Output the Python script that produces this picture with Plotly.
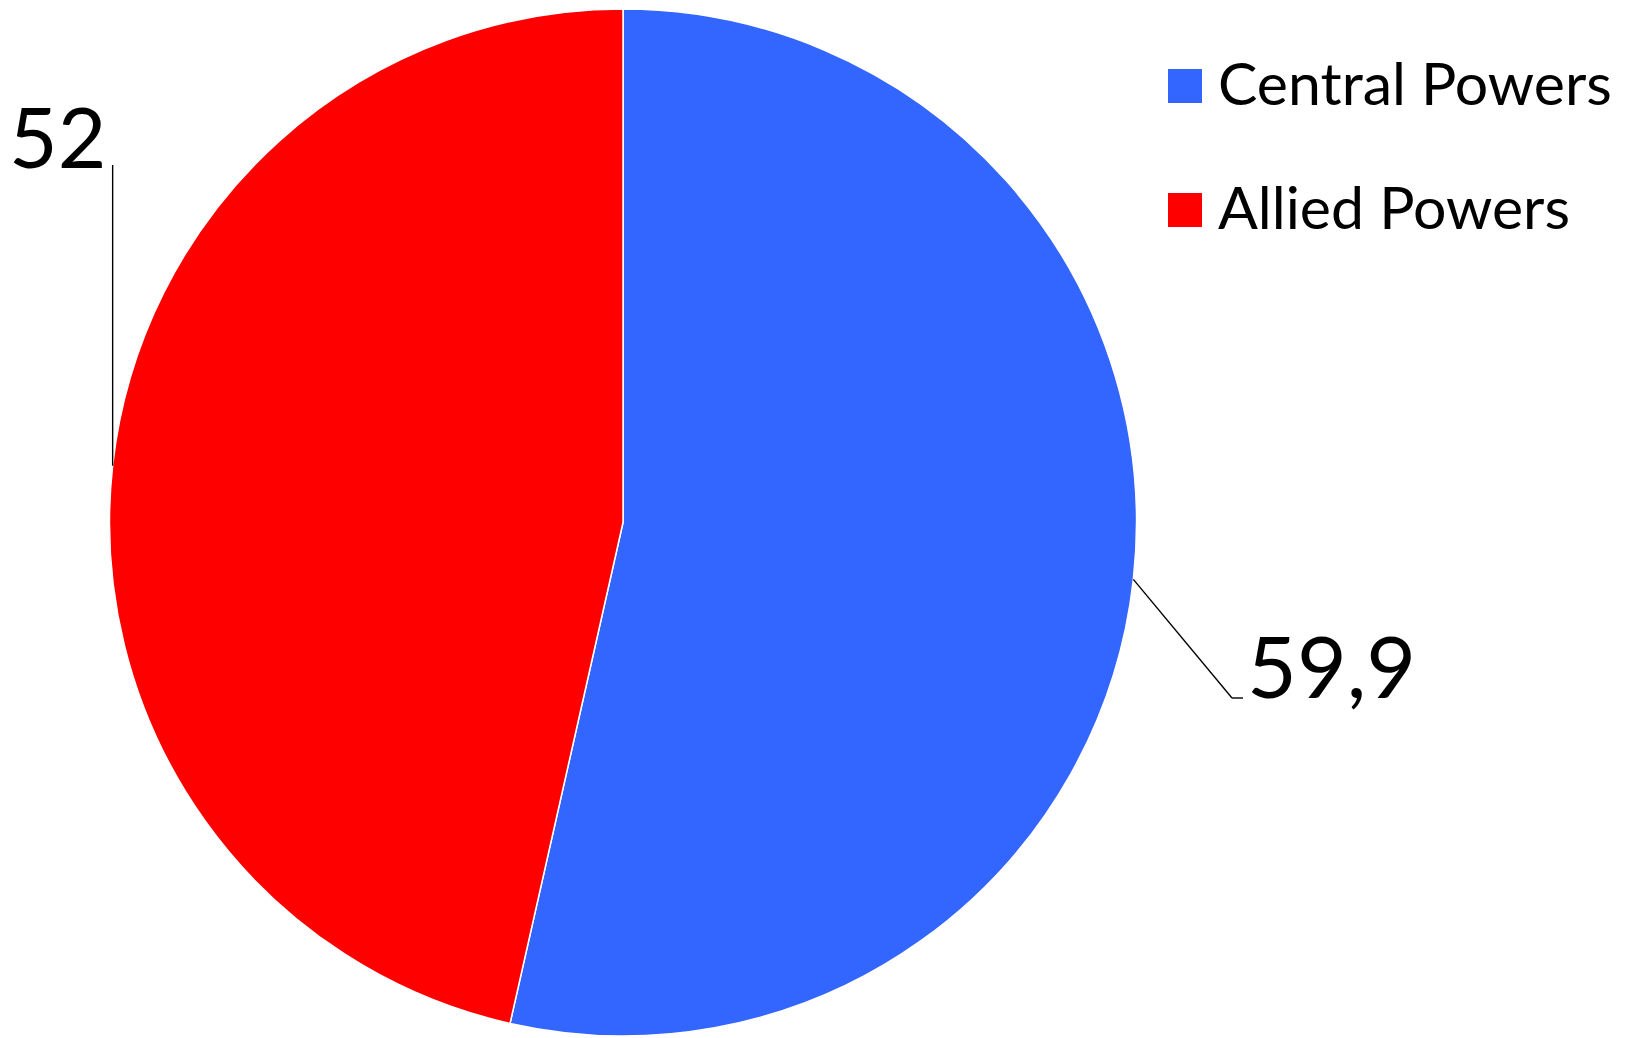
import numpy as np
import plotly.graph_objects as go

# ---- data ----
categories = ["Central Powers", "Allied Powers"]
values = [59.9, 52]
colors = ["#3366FF", "#FF0000"]

W, H = 1628, 1038
OFF = 8  # default page body margin
FW, FH = W - OFF, H - OFF
FONT = "Lato"

def px_x(x):
    return (x - OFF) / FW

def px_y(y):
    return 1 - (y - OFF) / FH

# pie placement (screen pixels)
pie_left, pie_right, pie_top, pie_bottom = 108, 1138, 9, 1036
cx = (pie_left + pie_right) / 2
cy = (pie_top + pie_bottom) / 2
R = min(pie_right - pie_left, pie_bottom - pie_top) / 2

fig = go.Figure()
fig.add_trace(go.Pie(
    labels=categories,
    values=values,
    sort=False,
    direction="clockwise",
    rotation=0,
    marker=dict(colors=colors, line=dict(color="white", width=1.5)),
    textinfo="none",
    hoverinfo="label+value",
    showlegend=False,
    domain=dict(x=[px_x(pie_left), px_x(pie_right)],
                y=[px_y(pie_bottom), px_y(pie_top)]),
))

def fmt(v):
    return f"{v:g}".replace(".", ",")

# slice mid-angles (clockwise from 12 o'clock)
vals = np.array(values, dtype=float)
cum = np.cumsum(vals) / vals.sum() * 360
starts = np.concatenate([[0], cum[:-1]])
mids = (starts + cum) / 2

shapes = []
annotations = []
LW = 1.4
for i, (cat, v, m) in enumerate(zip(categories, values, mids)):
    a = np.radians(m)
    ex = cx + R * np.sin(a)
    ey = cy - R * np.cos(a)
    if np.sin(a) >= 0:
        kx, ky = 1232, 698
        hx = 1243
        shapes.append(dict(type="line", xref="paper", yref="paper",
                           x0=px_x(ex), y0=px_y(ey), x1=px_x(kx), y1=px_y(ky),
                           line=dict(color="black", width=LW)))
        shapes.append(dict(type="line", xref="paper", yref="paper",
                           x0=px_x(kx), y0=px_y(ky), x1=px_x(hx), y1=px_y(ky),
                           line=dict(color="black", width=LW)))
        annotations.append(dict(text=fmt(v), x=px_x(1245), y=px_y(664),
                                xref="paper", yref="paper", xanchor="left", yanchor="middle",
                                showarrow=False, font=dict(family=FONT, size=86, color="black")))
    else:
        ty = 165
        shapes.append(dict(type="line", xref="paper", yref="paper",
                           x0=px_x(ex), y0=px_y(ey), x1=px_x(ex), y1=px_y(ty),
                           line=dict(color="black", width=LW)))
        annotations.append(dict(text=fmt(v), x=px_x(108), y=px_y(135),
                                xref="paper", yref="paper", xanchor="right", yanchor="middle",
                                showarrow=False, font=dict(family=FONT, size=84, color="black")))

# custom legend
leg_x0, leg_sq = 1168, 34
leg_rows = [86, 210]
for cat, col, ry in zip(categories, colors, leg_rows):
    shapes.append(dict(type="rect", xref="paper", yref="paper",
                       x0=px_x(leg_x0), x1=px_x(leg_x0 + leg_sq),
                       y0=px_y(ry + leg_sq / 2), y1=px_y(ry - leg_sq / 2),
                       fillcolor=col, line=dict(width=0)))
    annotations.append(dict(text=cat, x=px_x(1216), y=px_y(ry - 3),
                            xref="paper", yref="paper", xanchor="left", yanchor="middle",
                            showarrow=False, font=dict(family=FONT, size=59, color="black")))

fig.update_layout(
    width=FW, height=FH,
    margin=dict(l=0, r=0, t=0, b=0),
    paper_bgcolor="white",
    plot_bgcolor="white",
    shapes=shapes,
    annotations=annotations,
    showlegend=False,
)

fig.write_html("out.html")
